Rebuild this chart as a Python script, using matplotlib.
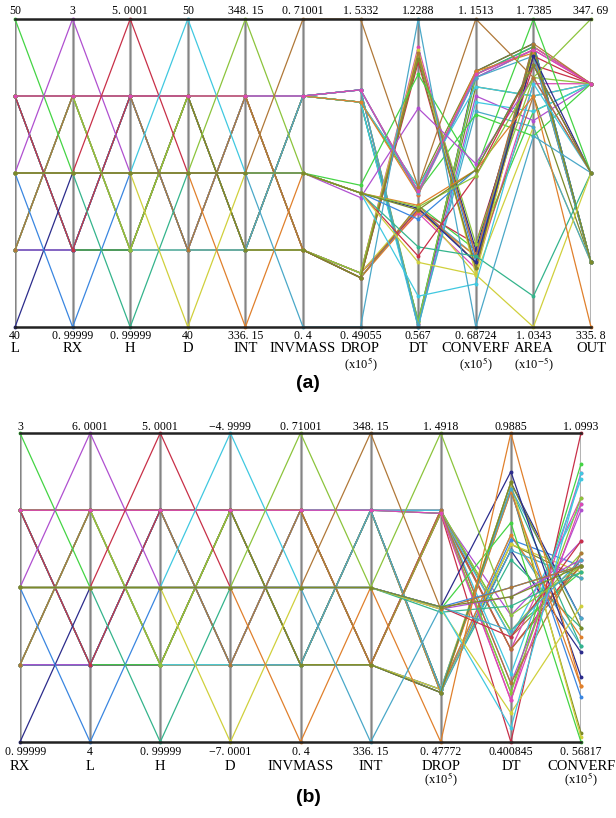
import matplotlib
matplotlib.use("Agg")
import matplotlib.pyplot as plt

plt.rcParams['font.family'] = ['Liberation Serif', 'DejaVu Serif']
plt.rcParams['mathtext.fontset'] = 'stix'

# coded design levels (-2..2) for the six input axes: 32 factorial runs, 12 star runs, centre
code1 = [-1, -1, -1, -1, -1, -1, -1, -1, -1, -1, -1, -1, -1, -1, -1, -1,
         1, 1, 1, 1, 1, 1, 1, 1, 1, 1, 1, 1, 1, 1, 1, 1,
         -2, 2, 0, 0, 0, 0, 0, 0, 0, 0, 0, 0, 0]
code2 = [-1, -1, -1, -1, -1, -1, -1, -1, 1, 1, 1, 1, 1, 1, 1, 1,
         -1, -1, -1, -1, -1, -1, -1, -1, 1, 1, 1, 1, 1, 1, 1, 1,
         0, 0, -2, 2, 0, 0, 0, 0, 0, 0, 0, 0, 0]
code3 = [-1, -1, -1, -1, 1, 1, 1, 1, -1, -1, -1, -1, 1, 1, 1, 1,
         -1, -1, -1, -1, 1, 1, 1, 1, -1, -1, -1, -1, 1, 1, 1, 1,
         0, 0, 0, 0, -2, 2, 0, 0, 0, 0, 0, 0, 0]
code4 = [-1, -1, 1, 1, -1, -1, 1, 1, -1, -1, 1, 1, -1, -1, 1, 1,
         -1, -1, 1, 1, -1, -1, 1, 1, -1, -1, 1, 1, -1, -1, 1, 1,
         0, 0, 0, 0, 0, 0, -2, 2, 0, 0, 0, 0, 0]
code5 = [-1, 1, -1, 1, -1, 1, -1, 1, -1, 1, -1, 1, -1, 1, -1, 1,
         -1, 1, -1, 1, -1, 1, -1, 1, -1, 1, -1, 1, -1, 1, -1, 1,
         0, 0, 0, 0, 0, 0, 0, 0, -2, 2, 0, 0, 0]
code6 = [-1, 1, 1, -1, 1, -1, -1, 1, 1, -1, -1, 1, -1, 1, 1, -1,
         1, -1, -1, 1, -1, 1, 1, -1, -1, 1, 1, -1, 1, -1, -1, 1,
         0, 0, 0, 0, 0, 0, 0, 0, 0, 0, -2, 2, 0]

# ---------- panel (a) ----------
names_a = ["L", "RX", "H", "D", "INT", "INVMASS", "DROP", "DT", "CONVERF", "AREA", "OUT"]
units_a = ["", "", "", "", "", "", "(x10$^{5}$)", "", "(x10$^{5}$)", "(x10$^{-5}$)", ""]
top_a = ["50", "3", "5. 0001", "50", "348. 15", "0. 71001", "1. 5332", "1.2288",
         "1. 1513", "1. 7385", "347. 69"]
bot_a = ["40", "0. 99999", "0. 99999", "40", "336. 15", "0. 4", "0. 49055", "0.567",
         "0. 68724", "1. 0343", "335. 8"]
hi_a = [50, 3, 5.0001, 50, 348.15, 0.71001, 1.5332, 1.2288, 1.1513, 1.7385, 347.69]
lo_a = [40, 0.99999, 0.99999, 40, 336.15, 0.4, 0.49055, 0.567, 0.68724, 1.0343, 335.8]

lev_L_a = [40, 42.5, 45, 47.5, 50]
lev_RX_a = [0.99999, 1.5, 2, 2.5, 3]
lev_H_a = [0.99999, 2, 3, 4, 5.0001]
lev_D_a = [40, 42.5, 45, 47.5, 50]
lev_INT_a = [336.15, 339.15, 342.15, 345.15, 348.15]
lev_INVMASS_a = [0.4, 0.4775, 0.555, 0.6325, 0.71001]

drop_a = [0.6730, 1.2517, 1.2517, 0.6730, 1.2934, 0.6574, 0.6574, 1.2934,
          1.2517, 0.6730, 0.6730, 1.2517, 0.6574, 1.2934, 1.2934, 0.6574,
          1.2517, 0.6730, 0.6730, 1.2517, 0.6574, 1.2934, 1.2934, 0.6574,
          0.6730, 1.2517, 1.2517, 0.6730, 1.2934, 0.6574, 0.6574, 1.2934,
          0.9441, 0.9702, 0.9441, 0.9285, 0.9441, 0.9441, 0.9441, 0.9441,
          0.9441, 0.9441, 0.49055, 1.5332, 0.9441]
dt_a = [0.8218, 0.5736, 0.5802, 0.8119, 0.5670, 0.8284, 0.8218, 0.5736,
        0.5802, 0.8185, 0.8251, 0.5670, 0.8152, 0.5769, 0.5703, 0.8284,
        0.8681, 1.1692, 1.1494, 0.8582, 1.1560, 0.8516, 0.8582, 1.1361,
        1.1627, 0.8681, 0.8516, 1.1494, 0.8549, 1.1560, 1.1428, 0.8582,
        0.8218, 1.1097, 0.7986, 1.0369, 0.7391, 0.7192, 0.7060, 0.6332,
        0.8284, 0.8251, 1.2288, 0.8681, 0.8185]
conv_a = [0.7940, 1.0678, 1.0492, 0.7754, 1.0724, 0.8033, 0.7847, 1.0353,
          1.0631, 0.8125, 0.7661, 1.0260, 0.7940, 1.0678, 1.0121, 0.7847,
          1.0724, 0.7940, 0.8033, 1.0074, 0.7847, 1.0631, 1.0678, 0.7754,
          0.7661, 1.0492, 1.0724, 0.8125, 1.0631, 0.7940, 0.7754, 1.0678,
          0.7847, 0.9239, 0.9239, 0.9332, 0.7940, 0.9146, 0.7661, 0.7522,
          0.9239, 0.9146, 0.68724, 1.1513, 0.9239]
area_a = [1.6610, 1.6751, 1.5625, 1.5906, 1.6822, 1.5272, 1.6681, 1.5061,
          1.6681, 1.6329, 1.4920, 1.5272, 1.6540, 1.6751, 1.4920, 1.5625,
          1.6822, 1.6751, 1.6610, 1.4709, 1.6822, 1.6681, 1.6751, 1.6540,
          1.6681, 1.5625, 1.6610, 1.6047, 1.6540, 1.6822, 1.6751, 1.6681,
          1.6540, 1.7385, 1.6329, 1.6047, 1.1047, 1.6329, 1.0343, 1.5906,
          1.5625, 1.6047, 1.4709, 1.6047, 1.6329]
out_a = [338.30, 345.19, 338.30, 345.19, 338.30, 345.19, 338.30, 345.19,
         338.30, 345.19, 338.30, 345.19, 338.30, 345.19, 338.30, 345.19,
         338.30, 345.19, 338.30, 345.19, 338.30, 345.19, 338.30, 345.19,
         338.30, 345.19, 338.30, 345.19, 338.30, 345.19, 338.30, 345.19,
         341.75, 341.75, 341.75, 341.75, 341.75, 341.75, 341.75, 341.75,
         335.80, 347.69, 341.75, 341.75, 341.75]

# ---------- panel (b) ----------
names_b = ["RX", "L", "H", "D", "INVMASS", "INT", "DROP", "DT", "CONVERF"]
units_b = ["", "", "", "", "", "", "(x10$^{5}$)", "", "(x10$^{5}$)"]
top_b = ["3", "6. 0001", "5. 0001", "\u22124. 9999", "0. 71001", "348. 15", "1. 4918",
         "0.9885", "1. 0993"]
bot_b = ["0. 99999", "4", "0. 99999", "\u22127. 0001", "0. 4", "336. 15", "0. 47772",
         "0.400845", "0. 56817"]
hi_b = [3, 6.0001, 5.0001, -4.9999, 0.71001, 348.15, 1.4918, 0.9885, 1.0993]
lo_b = [0.99999, 4, 0.99999, -7.0001, 0.4, 336.15, 0.47772, 0.400845, 0.56817]

lev_RX_b = [0.99999, 1.5, 2, 2.5, 3]
lev_L_b = [4, 4.5, 5, 5.5, 6.0001]
lev_H_b = [0.99999, 2, 3, 4, 5.0001]
lev_D_b = [-7.0001, -6.5, -6, -5.5, -4.9999]
lev_INVMASS_b = [0.4, 0.4775, 0.555, 0.6325, 0.71001]
lev_INT_b = [336.15, 339.15, 342.15, 345.15, 348.15]

drop_b = [0.6501, 1.2383, 0.6400, 1.2281, 0.6501, 1.2383, 0.6400, 1.2281,
          0.6501, 1.2383, 0.6400, 1.2281, 0.6501, 1.2383, 0.6400, 1.2281,
          0.6501, 1.2383, 0.6400, 1.2281, 0.6501, 1.2383, 0.6400, 1.2281,
          0.6501, 1.2383, 0.6400, 1.2281, 0.6501, 1.2383, 0.6400, 1.2281,
          0.9209, 0.9138, 0.9209, 0.9138, 0.9036, 0.9209, 0.9138, 0.9209,
          0.47772, 1.4918, 0.9209, 0.9138, 0.9209]
dt_b = [0.7946, 0.6006, 0.7769, 0.5771, 0.7652, 0.6124, 0.7858, 0.6418,
        0.7476, 0.5771, 0.7769, 0.6006, 0.7946, 0.6124, 0.7652, 0.5771,
        0.8827, 0.4802, 0.8945, 0.4949, 0.8768, 0.5125, 0.8827, 0.400845,
        0.8945, 0.5301, 0.8768, 0.4949, 0.8827, 0.5125, 0.8945, 0.4802,
        0.9150, 0.8181, 0.6947, 0.6770, 0.6594, 0.6006, 0.4561, 0.4273,
        0.9885, 0.6418, 0.6124, 0.6947, 0.6770]
conv_b = [0.7328, 0.8709, 0.8497, 0.9878, 0.7222, 0.8603, 0.8709, 0.9134,
          0.7647, 0.8815, 0.8603, 0.9771, 0.7488, 0.8922, 0.8497, 0.8709,
          0.5841, 1.0302, 0.7806, 1.0462, 0.6452, 0.9665, 0.7328, 1.0993,
          0.5761, 1.0196, 0.6638, 0.9878, 0.7806, 0.8922, 0.7647, 0.9771,
          0.6797, 0.56817, 0.8709, 0.8815, 0.8603, 0.9134, 0.8019, 1.0302,
          0.6638, 0.8709, 0.8815, 0.8709, 0.8709]

palette = ['#4aa8c8', '#b07838', '#7c8a2a', '#dc48b4', '#2c2c8c', '#44d444', '#3a86e0',
           '#b050d0', '#34b48c', '#c83048', '#d0d03c', '#40c8e0', '#e0802c', '#8cc43c']


def build_rows(levels, codes, outputs):
    cols = []
    for lev, c in zip(levels, codes):
        cols.append([lev[k + 2] for k in c])
    cols += outputs
    return [list(r) for r in zip(*cols)]


codes = [code1, code2, code3, code4, code5, code6]
rows_a = build_rows([lev_L_a, lev_RX_a, lev_H_a, lev_D_a, lev_INT_a, lev_INVMASS_a], codes,
                    [drop_a, dt_a, conv_a, area_a, out_a])
rows_b = build_rows([lev_RX_b, lev_L_b, lev_H_b, lev_D_b, lev_INVMASS_b, lev_INT_b], codes,
                    [drop_b, dt_b, conv_b])

fig = plt.figure(figsize=(6.16, 8.18), dpi=100)
W, H = 616.0, 818.0


def panel(box, rows, lo, hi, top, bot, names, units, offs):
    x0, x1, ytop, ybot = box
    ax = fig.add_axes([x0 / W, 1 - ybot / H, (x1 - x0) / W, (ybot - ytop) / H])
    n = len(lo)
    ax.set_xlim(0, n - 1)
    ax.set_ylim(0, 1)
    ax.axis('off')
    for i in range(n):
        ax.plot([i, i], [0, 1], color='#b4b4b4', lw=2.2, zorder=1, solid_capstyle='butt')
        ax.plot([i, i], [0, 1], color='#707070', lw=0.5, zorder=1)
    for yy in (0, 1):
        ax.plot([0, n - 1], [yy, yy], color='#222222', lw=1.8, zorder=4, clip_on=False)
    for j, r in enumerate(rows):
        ys = [(v - a) / (b - a) for v, a, b in zip(r, lo, hi)]
        ax.plot(range(n), ys, color=palette[j % len(palette)], lw=0.9, marker='o', ms=1.8,
                zorder=2, clip_on=False)
    px = 0.72
    t_up, t_num, t_name, t_unit = offs
    for i in range(n):
        dx = 0
        if i == 0 and len(bot[i]) > 4:
            dx = 6
        ax.annotate(top[i], (i, 1), xytext=(0, t_up * px), textcoords='offset points',
                    ha='center', va='center', fontsize=8.5, annotation_clip=False)
        ax.annotate(bot[i], (i, 0), xytext=(dx * px, -t_num * px), textcoords='offset points',
                    ha='center', va='center', fontsize=8.5, annotation_clip=False)
        ax.annotate(names[i], (i, 0), xytext=(0, -t_name * px), textcoords='offset points',
                    ha='center', va='center', fontsize=10.5, annotation_clip=False)
        if units[i]:
            ax.annotate(units[i], (i, 0), xytext=(0, -t_unit * px), textcoords='offset points',
                        ha='center', va='top', fontsize=9, annotation_clip=False)
    return ax


panel((15, 591, 19, 327), rows_a, lo_a, hi_a, top_a, bot_a, names_a, units_a, (8, 9, 22, 29))
panel((20, 581, 433, 742), rows_b, lo_b, hi_b, top_b, bot_b, names_b, units_b, (6, 10, 24, 29))

fig.text(308 / W, 1 - 383 / H, "(a)", ha='center', va='center', fontsize=14,
         fontweight='bold', family=['Liberation Sans', 'DejaVu Sans'])
fig.text(308 / W, 1 - 798 / H, "(b)", ha='center', va='center', fontsize=14,
         fontweight='bold', family=['Liberation Sans', 'DejaVu Sans'])

fig.savefig("out.png", dpi=100, facecolor='white')
